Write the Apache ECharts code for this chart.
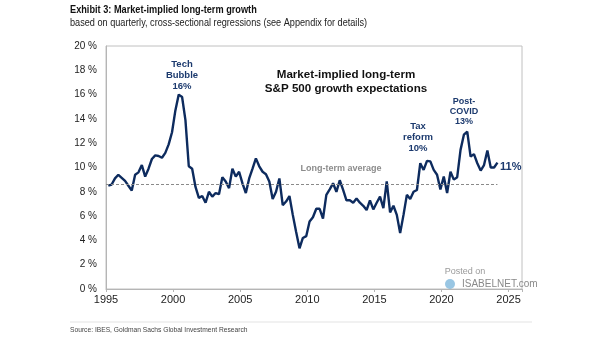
<!DOCTYPE html>
<html>
<head>
<meta charset="utf-8">
<script src="https://cdn.jsdelivr.net/npm/echarts@6/dist/echarts.min.js"></script>
<style>html,body{margin:0;padding:0;background:#fff;}#c{width:605px;height:341px;}</style>
</head>
<body>
<div id="c"></div>
<script>
// ---- data ----
const FIRST_OBS = 1995.17;      // decimal year of first quarterly observation
const QUARTER = 0.25;
const growth = [
  8.5, 8.6, 9.1, 9.4, 9.15, 8.9, 8.5, 8.1,
  9.4, 9.6, 10.2, 9.25, 9.9, 10.7, 11.0, 10.95,
  10.8, 11.2, 11.9, 12.9, 14.7, 16.0, 15.8, 13.9,
  10.1, 9.9, 8.4, 7.5, 7.65, 7.1, 8.0, 7.6,
  7.9, 7.8, 9.2, 8.85, 8.3, 9.9, 9.25, 9.65,
  8.7, 7.9, 9.1, 9.9, 10.75, 10.1, 9.65, 9.45,
  8.85, 7.4, 8.0, 9.1, 6.9, 7.2, 7.65, 6.1,
  4.7, 3.35, 4.2, 4.35, 5.55, 5.9, 6.6, 6.6,
  5.8, 7.75, 8.2, 8.7, 8.0, 8.95, 8.15, 7.3,
  7.3, 7.1, 7.45, 7.1, 6.85, 6.5, 7.3, 6.55,
  7.1, 7.6, 6.65, 8.85, 6.3, 6.85, 6.1, 4.6,
  6.1, 7.75, 7.4, 8.0, 8.15, 10.35, 9.8, 10.55,
  10.5, 9.8, 9.4, 8.2, 9.25, 7.9, 9.65, 9.0,
  9.2, 11.45, 12.7, 12.95, 10.9, 11.1, 10.35, 9.75,
  10.2, 11.4, 10.0, 10.0, 10.4
];
const LONG_TERM_AVG = 8.6;
const xTicks = [1995, 2000, 2005, 2010, 2015, 2020, 2025];
const yTicks = [0, 2, 4, 6, 8, 10, 12, 14, 16, 18, 20];

const points = growth.map((v, i) => [FIRST_OBS + i * QUARTER, v]);
const lastDate = points[points.length - 1][0];

const NAVY = '#0d2b5e';
const ANN = '#1c3a6e';
const SANS = '"Liberation Sans",Arial,sans-serif';

const chart = echarts.init(document.getElementById('c'), null, {renderer: 'canvas'});
chart.setOption({
  animation: false,
  backgroundColor: '#fff',
  grid: {left: 106, right: 83, top: 46, bottom: 52, show: true, borderColor: '#c0c0c0', borderWidth: 1},
  xAxis: {
    type: 'value', min: xTicks[0], max: 2026, interval: 5,
    axisLine: {lineStyle: {color: '#b5b5b5'}},
    axisTick: {show: true, length: 3, lineStyle: {color: '#b5b5b5'}},
    splitLine: {show: false},
    axisLabel: {
      color: '#222', fontFamily: SANS, fontSize: 11, margin: 5,
      formatter: v => xTicks.includes(v) ? String(v) : ''
    }
  },
  yAxis: {
    type: 'value', min: yTicks[0], max: yTicks[yTicks.length - 1], interval: 2,
    axisLine: {show: true, lineStyle: {color: '#b5b5b5'}},
    axisTick: {show: false},
    splitLine: {show: false},
    axisLabel: {color: '#222', fontFamily: SANS, fontSize: 10, margin: 9, formatter: '{value} %'}
  },
  series: [{
    type: 'line', data: points, showSymbol: false, smooth: false,
    lineStyle: {color: NAVY, width: 2.4},
    z: 3,
    markLine: {
      silent: true, symbol: 'none', label: {show: false},
      lineStyle: {color: '#8a8a8a', type: [3, 2], width: 1},
      data: [[{coord: [xTicks[0], LONG_TERM_AVG]}, {coord: [lastDate, LONG_TERM_AVG]}]]
    }
  }],
  graphic: [
    {type: 'text', x: 70, y: 4, scaleX: 0.835, style: {text: 'Exhibit 3: Market-implied long-term growth', font: 'bold 11px ' + SANS, fill: '#111', verticalAlign: 'top'}},
    {type: 'text', x: 70, y: 18, scaleX: 0.914, style: {text: 'based on quarterly, cross-sectional regressions (see Appendix for details)', font: '10px ' + SANS, fill: '#222', verticalAlign: 'top'}},
    {type: 'line', shape: {x1: 70, y1: 322, x2: 532, y2: 322}, style: {stroke: '#e3e3e3', lineWidth: 1}},
    {type: 'text', x: 70, y: 326, scaleX: 0.835, style: {text: 'Source: IBES, Goldman Sachs Global Investment Research', font: '8px ' + SANS, fill: '#444', verticalAlign: 'top'}},
    {type: 'text', x: 346, y: 82, style: {text: 'Market-implied long-term\nS&P 500 growth expectations', font: 'bold 11.6px ' + SANS, fill: '#111', align: 'center', verticalAlign: 'middle', lineHeight: 14}},
    {type: 'text', x: 182, y: 75, style: {text: 'Tech\nBubble\n16%', font: 'bold 9.5px ' + SANS, fill: ANN, align: 'center', verticalAlign: 'middle', lineHeight: 11}},
    {type: 'text', x: 418, y: 137, style: {text: 'Tax\nreform\n10%', font: 'bold 9.5px ' + SANS, fill: ANN, align: 'center', verticalAlign: 'middle', lineHeight: 11}},
    {type: 'text', x: 464, y: 112, style: {text: 'Post-\nCOVID\n13%', font: 'bold 9px ' + SANS, fill: ANN, align: 'center', verticalAlign: 'middle', lineHeight: 10}},
    {type: 'text', x: 500, y: 167, style: {text: '11%', font: 'bold 11px ' + SANS, fill: ANN, align: 'left', verticalAlign: 'middle'}},
    {type: 'text', x: 341, y: 169, style: {text: 'Long-term average', font: 'bold 9px ' + SANS, fill: '#8c8c8c', align: 'center', verticalAlign: 'middle'}},
    {type: 'text', x: 465, y: 272, style: {text: 'Posted on', font: '9px ' + SANS, fill: '#9a9a9a', align: 'center', verticalAlign: 'middle'}},
    {type: 'circle', shape: {cx: 450, cy: 284, r: 5}, style: {fill: '#7fb8dc', opacity: 0.8}},
    {type: 'text', x: 462, y: 284, style: {text: 'ISABELNET.com', font: '10px ' + SANS, fill: '#8a8a8a', align: 'left', verticalAlign: 'middle'}}
  ]
});
</script>
</body>
</html>
